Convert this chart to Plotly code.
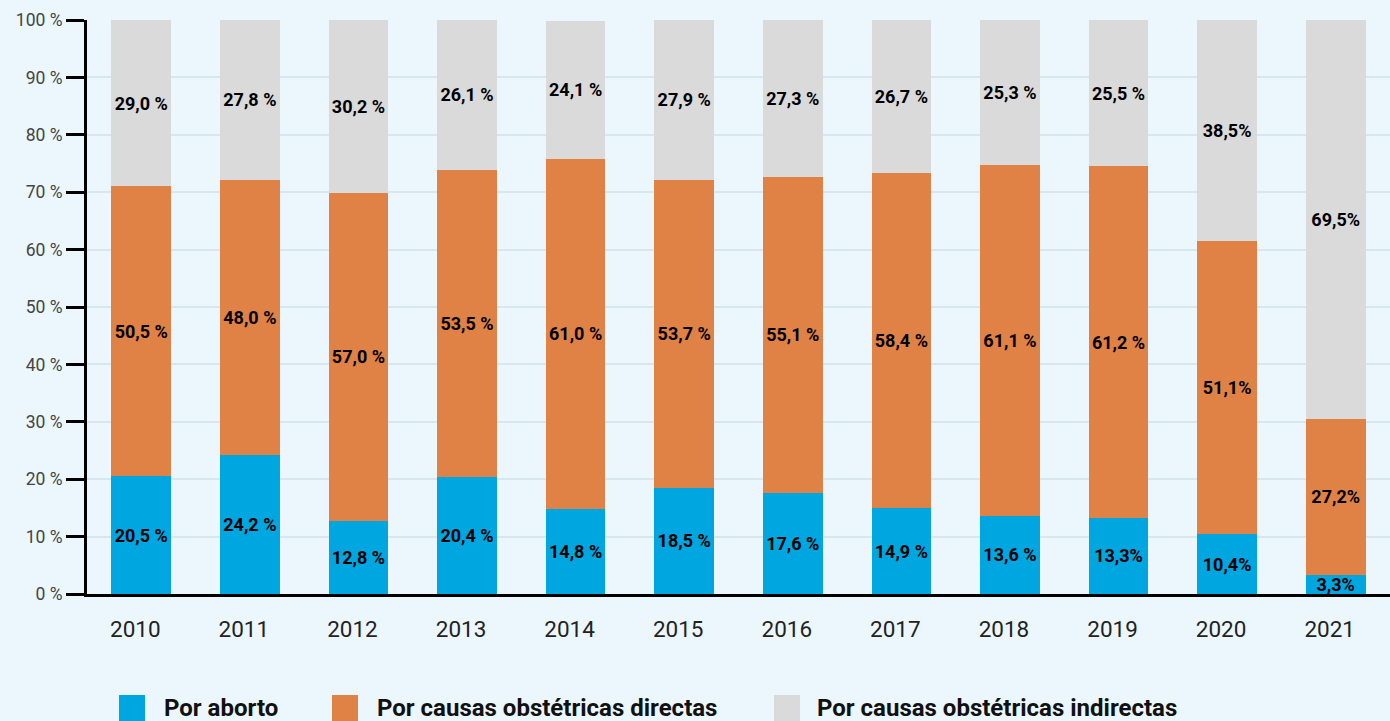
import plotly.graph_objects as go

years = ["2010", "2011", "2012", "2013", "2014", "2015", "2016", "2017", "2018", "2019", "2020", "2021"]
aborto = [20.5, 24.2, 12.8, 20.4, 14.8, 18.5, 17.6, 14.9, 13.6, 13.3, 10.4, 3.3]
directas = [50.5, 48.0, 57.0, 53.5, 61.0, 53.7, 55.1, 58.4, 61.1, 61.2, 51.1, 27.2]
indirectas = [29.0, 27.8, 30.2, 26.1, 24.1, 27.9, 27.3, 26.7, 25.3, 25.5, 38.5, 69.5]
aborto_txt = ["20,5 %", "24,2 %", "12,8 %", "20,4 %", "14,8 %", "18,5 %", "17,6 %", "14,9 %", "13,6 %", "13,3%", "10,4%", "3,3%"]
directas_txt = ["50,5 %", "48,0 %", "57,0 %", "53,5 %", "61,0 %", "53,7 %", "55,1 %", "58,4 %", "61,1 %", "61,2 %", "51,1%", "27,2%"]
indirectas_txt = ["29,0 %", "27,8 %", "30,2 %", "26,1 %", "24,1 %", "27,9 %", "27,3 %", "26,7 %", "25,3 %", "25,5 %", "38,5%", "69,5%"]
series_names = ["Por aborto", "Por causas obstétricas directas", "Por causas obstétricas indirectas"]
colors = ["#00a6e0", "#e08245", "#dadada"]
y_ticks = [0, 10, 20, 30, 40, 50, 60, 70, 80, 90, 100]
y_tick_text = [f"{v} %" for v in y_ticks]

BG = "#ebf7fd"
fig = go.Figure()
for vals, txt, name, col in zip([aborto, directas, indirectas],
                                [aborto_txt, directas_txt, indirectas_txt],
                                series_names, colors):
    fig.add_trace(go.Bar(
        x=years, y=vals, name=name, marker=dict(color=col, line=dict(width=0)),
        text=txt, textposition="inside", insidetextanchor="middle",
        textangle=0, constraintext="none",
        textfont=dict(family="Roboto", size=18, color="#000000", weight="bold"),
        showlegend=False, hoverinfo="skip",
    ))

fig.update_layout(
    barmode="stack", bargap=0.45,
    width=1390, height=721,
    paper_bgcolor=BG, plot_bgcolor=BG,
    margin=dict(l=87, r=0, t=20, b=127),
    font=dict(family="Roboto"),
)
fig.update_yaxes(
    range=[0, 100], tickvals=y_ticks, ticktext=y_tick_text,
    showgrid=True, gridcolor="#d8e6ee", gridwidth=2,
    showline=True, linecolor="#000000", linewidth=3,
    ticks="outside", ticklen=18, tickwidth=3, tickcolor="#000000",
    tickfont=dict(family="Roboto", size=17.5, color="#444444"),
    zeroline=False, layer="below traces",
)
fig.update_xaxes(
    showline=True, linecolor="#000000", linewidth=3,
    showgrid=False, ticks="", ticklabelstandoff=13, ticklabelshift=-6,
    tickfont=dict(family="Roboto", size=22.5, color="#222222"),
)

# custom legend
leg_y = 708
items = [(119, 162), (332, 375), (774, 815)]
shapes = []
annotations = []
for (sx, tx), name, col in zip(items, series_names, colors):
    shapes.append(dict(type="rect", xref="paper", yref="paper",
                       x0=(sx - 87) / 1303, x1=(sx + 26 - 87) / 1303,
                       y0=(594 - (leg_y + 13)) / 574, y1=(594 - (leg_y - 13)) / 574,
                       fillcolor=col, line=dict(width=0)))
    annotations.append(dict(text=name, xref="paper", yref="paper",
                            x=(tx - 87) / 1303, y=(594 - leg_y) / 574,
                            xanchor="left", yanchor="middle", showarrow=False,
                            font=dict(family="Roboto", size=24, color="#111111", weight="bold")))
fig.update_layout(shapes=shapes, annotations=annotations)

fig.write_html("out.html")
